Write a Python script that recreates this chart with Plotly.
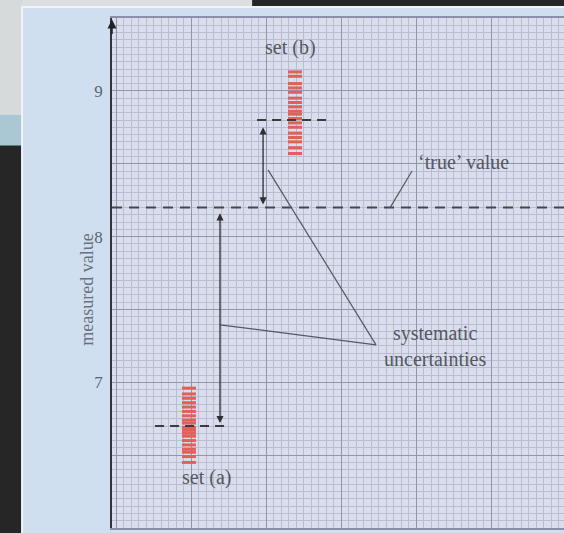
import plotly.graph_objects as go

# ---- data ----
set_a_values = [6.96, 6.92, 6.89, 6.86, 6.83, 6.80, 6.77, 6.74, 6.72, 6.69,
                6.67, 6.65, 6.63, 6.60, 6.57, 6.54, 6.52, 6.49, 6.45]
set_b_values = [9.13, 9.10, 9.05, 9.02, 8.99, 8.95, 8.92, 8.89, 8.86, 8.84,
                8.81, 8.78, 8.75, 8.71, 8.68, 8.65, 8.61, 8.57]
set_a_x = 0.513
set_b_x = 1.22
mean_a = 6.70
mean_b = 8.80
true_value = 8.20
mean_a_span = [0.287, 0.76]
mean_b_span = [0.967, 1.467]
arrow_a_x = 0.72
arrow_b_x = 1.007
y_tick_vals = [6, 6.5, 7, 7.5, 8, 8.5, 9, 9.5]
y_tick_text = ["6", "", "7", "", "8", "", "9", ""]
x_range = [0, 3.013]
y_range = [6, 9.5]

FONT = "Liberation Serif"
TXT = "#55585f"

fig = go.Figure()

# measurements
fig.add_trace(go.Scatter(
    x=[set_a_x] * len(set_a_values), y=set_a_values, mode="markers",
    marker=dict(symbol="line-ew", size=10, line=dict(width=3, color="#e0605a")),
    hoverinfo="y", showlegend=False))
fig.add_trace(go.Scatter(
    x=[set_b_x] * len(set_b_values), y=set_b_values, mode="markers",
    marker=dict(symbol="line-ew", size=10, line=dict(width=3, color="#e0605a")),
    hoverinfo="y", showlegend=False))

# mean lines
fig.add_trace(go.Scatter(x=mean_a_span, y=[mean_a, mean_a], mode="lines",
                         line=dict(color="#3a3a40", width=1.8, dash="9px,6px"),
                         showlegend=False, hoverinfo="skip"))
fig.add_trace(go.Scatter(x=mean_b_span, y=[mean_b, mean_b], mode="lines",
                         line=dict(color="#3a3a40", width=1.8, dash="9px,6px"),
                         showlegend=False, hoverinfo="skip"))
# true value line
fig.add_trace(go.Scatter(x=x_range, y=[true_value, true_value], mode="lines",
                         line=dict(color="#45454c", width=2, dash="10px,7px"),
                         showlegend=False, hoverinfo="skip"))

shapes = [
    # other page top-left
    dict(type="rect", xref="paper", yref="paper", x0=-0.26, x1=0.31, y0=1.0216, y1=1.04,
         fillcolor="#dcdedf", line=dict(width=0), layer="below"),
    dict(type="rect", xref="paper", yref="paper", x0=-0.26, x1=-0.199, y0=0.81, y1=1.04,
         fillcolor="#d6dadb", line=dict(width=0), layer="below"),
    dict(type="rect", xref="paper", yref="paper", x0=-0.26, x1=-0.199, y0=0.75, y1=0.81,
         fillcolor="#a9c8d3", line=dict(width=0), layer="below"),
    # page
    dict(type="rect", xref="paper", yref="paper", x0=-0.199, x1=1.01, y0=-0.02, y1=1.0216,
         fillcolor="#cfdff0", line=dict(width=2, color="#eef4fa"), layer="below"),
    # plot background (graph paper)
    dict(type="rect", xref="paper", yref="paper", x0=0, x1=1, y0=0, y1=1,
         fillcolor="#dadeec", line=dict(width=0), layer="below"),
    # leader lines
    dict(type="line", xref="x", yref="y", x0=1.853, y0=8.197, x1=2.0, y1=8.45,
         line=dict(color="#55585f", width=1.2)),
    dict(type="line", xref="x", yref="y", x0=0.72, y0=7.394, x1=1.76, y1=7.257,
         line=dict(color="#55585f", width=1.2)),
    dict(type="line", xref="x", yref="y", x0=1.04, y0=8.458, x1=1.76, y1=7.257,
         line=dict(color="#55585f", width=1.2)),
]

annotations = [
    # systematic uncertainty arrows
    dict(x=arrow_a_x, y=6.72, ax=arrow_a_x, ay=8.17, xref="x", yref="y", axref="x", ayref="y",
         showarrow=True, arrowhead=2, arrowside="end+start", arrowsize=1.1, arrowwidth=1.3,
         arrowcolor="#2e2e33", text=""),
    dict(x=arrow_b_x, y=8.22, ax=arrow_b_x, ay=8.76, xref="x", yref="y", axref="x", ayref="y",
         showarrow=True, arrowhead=2, arrowside="end+start", arrowsize=1.1, arrowwidth=1.3,
         arrowcolor="#2e2e33", text=""),
    # axis arrow
    dict(x=0, y=9.49, ax=0, ay=9.38, xref="x", yref="y", axref="x", ayref="y",
         showarrow=True, arrowhead=2, arrowsize=1.2, arrowwidth=1.5, arrowcolor="#222", text=""),
    # labels
    dict(x=1.187, y=9.30, xref="x", yref="y", text="set (b)", showarrow=False,
         font=dict(family=FONT, size=20, color=TXT)),
    dict(x=0.627, y=6.35, xref="x", yref="y", text="set (a)", showarrow=False,
         font=dict(family=FONT, size=20, color=TXT)),
    dict(x=2.34, y=8.51, xref="x", yref="y", text="‘true’ value", showarrow=False,
         font=dict(family=FONT, size=20, color=TXT)),
    dict(x=2.15, y=7.25, xref="x", yref="y", text="systematic<br>uncertainties",
         showarrow=False, font=dict(family=FONT, size=20, color=TXT)),
    dict(x=-0.082, y=0.467, xref="paper", yref="paper", text="measured value",
         textangle=-90, showarrow=False, font=dict(family=FONT, size=18, color="#6b7080")),
]

fig.update_layout(
    width=564, height=533,
    margin=dict(l=112, r=0, t=18, b=5),
    paper_bgcolor="#262626",
    plot_bgcolor="rgba(0,0,0,0)",
    shapes=shapes,
    annotations=annotations,
    showlegend=False,
    xaxis=dict(range=x_range, showticklabels=False, ticks="", zeroline=False,
               tick0=0.027, dtick=0.5, showgrid=True, gridcolor="#9096ae", gridwidth=1.2,
               minor=dict(tickmode="linear", tick0=0.027, dtick=0.05, showgrid=True,
                          gridcolor="#b8bdd2", gridwidth=0.8),
               showline=True, mirror=True, linecolor="#8a90a8", linewidth=1.5),
    yaxis=dict(range=y_range, tickmode="array", tickvals=y_tick_vals, ticktext=y_tick_text,
               ticks="", zeroline=False, showgrid=True, gridcolor="#9096ae", gridwidth=1.2,
               minor=dict(tickmode="linear", tick0=6, dtick=0.05, showgrid=True,
                          gridcolor="#b8bdd2", gridwidth=0.8),
               tickfont=dict(family=FONT, size=17, color="#60646c"),
               showline=True, linecolor="#333338", linewidth=1.6, ticklabelstandoff=4),
)

fig.write_html("out.html", config={"displayModeBar": False},
               post_script="document.body.style.margin='0';")
